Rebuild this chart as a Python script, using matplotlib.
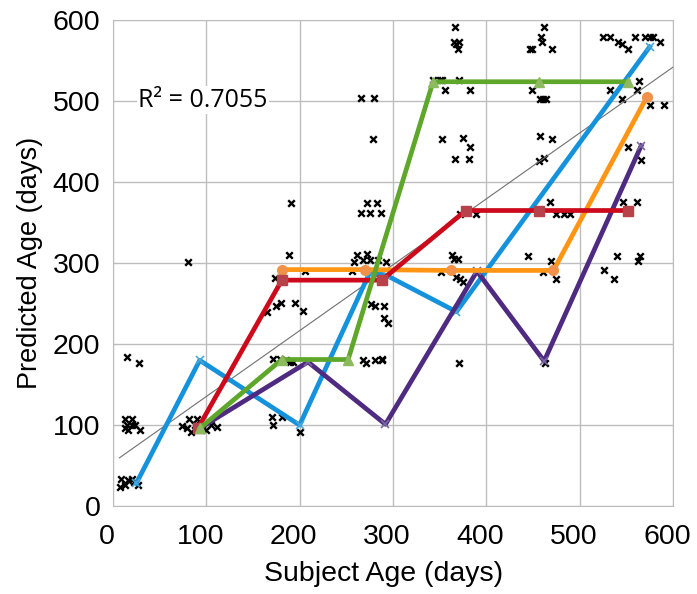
import matplotlib
matplotlib.use("Agg")
import matplotlib.pyplot as plt
from matplotlib.transforms import ScaledTranslation

# scatter of individual predictions (days)
pts_x = [15, 28, 13, 20, 15, 24, 16, 29, 20, 13, 9, 16, 20, 8, 13, 27, 23,
         74, 81, 90, 79, 84, 100, 111, 80, 88, 95, 105,
         191, 189, 174, 175, 180, 195, 204, 165, 206, 172, 179, 190, 193, 185, 170, 181, 172, 200,
         266, 280, 279, 272, 283, 266, 275, 287, 261, 272, 258, 268, 275, 284, 293, 256,
         277, 281, 290, 290, 295, 288, 268, 271, 281, 288,
         366, 365, 371, 368, 370, 343, 350, 353, 371, 356, 383, 353, 375, 383, 366, 381,
         372, 389, 363, 365, 370, 352, 368, 372, 375, 371,
         462, 459, 460, 447, 449, 470, 449, 458, 461, 464, 458, 470, 456, 462,
         468, 475, 483, 490, 445, 469, 461, 475, 463,
         525, 533, 541, 545, 552, 559, 570, 575, 579, 586, 564, 533, 545, 562, 575, 590,
         552, 566, 547, 561, 540, 565, 563, 526, 537]
pts_y = [184, 177, 108, 108, 100, 100, 94, 94, 100, 96, 34, 32, 34, 24, 26, 26, 30,
         99, 108, 108, 96, 92, 94, 98, 302, 100, 95, 100,
         374, 310, 282, 247, 251, 251, 241, 240, 290, 182, 182, 178, 178, 180, 110, 110, 100, 92,
         504, 504, 453, 374, 374, 362, 362, 362, 310, 311, 302, 304, 304, 304, 302, 290,
         250, 247, 247, 232, 226, 182, 180, 177, 181, 181,
         591, 573, 573, 570, 565, 526, 526, 526, 526, 514, 514, 453, 454, 444, 428, 428,
         361, 361, 310, 305, 305, 289, 283, 280, 277, 177,
         591, 579, 573, 565, 564, 565, 514, 503, 503, 503, 457, 453, 426, 430,
         375, 361, 361, 361, 309, 303, 289, 281, 177,
         579, 579, 573, 571, 564, 579, 579, 579, 579, 573, 525, 514, 503, 514, 495, 495,
         444, 427, 375, 375, 309, 309, 303, 291, 281]

# model curves
blue_x = [25, 93, 200, 275, 293, 368, 575]
blue_y = [28, 180, 100, 288, 285, 240, 567]
red_x = [91, 181, 288, 378, 456, 552]
red_y = [96, 279, 279, 365, 365, 365]
orange_x = [181, 270, 362, 472, 572]
orange_y = [292, 292, 291, 291, 505]
green_x = [93, 181, 252, 343, 457, 552]
green_y = [96, 181, 181, 524, 524, 524]
purple_x = [93, 209, 292, 390, 462, 566]
purple_y = [96, 178, 101, 290, 179, 445]

# linear trend line endpoints
trend_x = [7, 600]
trend_y = [59.6, 542]
r2_label = "R\u00b2 = 0.7055"

ticks = [0, 100, 200, 300, 400, 500, 600]

plt.rcParams['font.family'] = ['Liberation Sans', 'DejaVu Sans']

fig = plt.figure(figsize=(6.97, 5.94), dpi=100)
ax = fig.add_axes([0.162, 0.148, 0.8035, 0.818])

ax.scatter(pts_x, pts_y, marker="x", s=22, color="black", linewidths=1.7, zorder=2)
ax.plot(trend_x, trend_y, color="#707070", lw=0.8, zorder=3)

lw = 3.4
ax.plot(blue_x, blue_y, color="#1592dc", lw=lw, marker="x", ms=6, mew=1.2, mec="#4aa8d8", zorder=4)
ax.plot(purple_x, purple_y, color="#4e2a80", lw=lw, marker="x", ms=6, mew=1.2, mec="#7a68a0", zorder=5)
ax.plot(orange_x, orange_y, color="#ff9513", lw=lw, marker="o", ms=7, mfc="#f0924a", mec="#f0924a", zorder=6)
ax.plot(red_x, red_y, color="#cc0a1c", lw=lw, marker="s", ms=7, mfc="#b8424a", mec="#b8424a", zorder=7)
ax.plot(green_x, green_y, color="#5ea72a", lw=lw, marker="^", ms=7, mfc="#8dba5e", mec="#8dba5e", zorder=8)

ax.text(27, 501, r2_label, fontsize=18, family="Open Sans", va="center", ha="left",
        bbox=dict(facecolor="white", edgecolor="none", pad=1), zorder=3)

ax.set_xlim(0, 600)
ax.set_ylim(0, 600)
ax.set_xticks(ticks)
ax.set_yticks(ticks)
ax.tick_params(length=0, labelsize=20.5)
ax.tick_params(axis="x", pad=13)
ax.tick_params(axis="y", pad=9)
# excel puts the x labels a little left of the gridlines
shift = ScaledTranslation(-6 / 100, 0, fig.dpi_scale_trans)
for lab in ax.get_xticklabels():
    lab.set_transform(lab.get_transform() + shift)
ax.grid(True, color="#bdbdbd", lw=1)
ax.set_axisbelow(True)
for s in ax.spines.values():
    s.set_color("#bdbdbd")
ax.set_xlabel("Subject Age (days)", fontsize=20.5, labelpad=8, x=0.484)
ax.set_ylabel("Predicted Age (days)", fontsize=19.5, labelpad=7)

fig.savefig("out.png", dpi=100)
